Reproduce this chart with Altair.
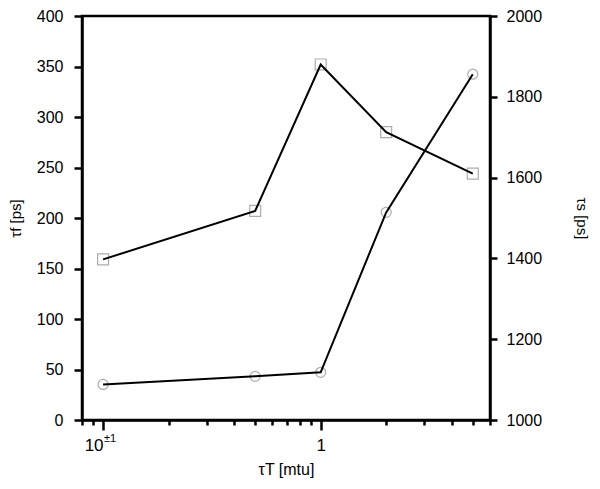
import altair as alt
import pandas as pd

# data
x_vals = [0.1, 0.5, 1, 2, 5]
tau_f = [159, 207, 352, 285, 244]          # squares, left axis
tau_s = [1088, 1108, 1118, 1514, 1856]     # circles, right axis

x_major = [0.1, 1]
x_minor = [0.08, 0.09, 0.2, 0.3, 0.4, 0.5, 0.6, 0.7, 0.8, 0.9, 2, 3, 4, 5, 6]
yl_ticks = [0, 50, 100, 150, 200, 250, 300, 350, 400]
yr_ticks = [1000, 1200, 1400, 1600, 1800, 2000]

df = pd.DataFrame({"x": x_vals, "tf": tau_f, "ts": tau_s})
sup = pd.DataFrame({"x": [0.1], "t": ["±1"]})

W, H = 408, 404
FONT = "Liberation Sans"

xscale = alt.Scale(type="log", domain=[0.08, 6], nice=False)
ylscale = alt.Scale(domain=[0, 400], nice=False)
yrscale = alt.Scale(domain=[1000, 2000], nice=False)

major_axis = alt.Axis(
    orient="bottom",
    values=x_major,
    labelExpr="datum.value < 0.5 ? '10' : '1'",
    labelAlign=alt.ConditionalAxisLabelAlign(
        condition={"test": "datum.value < 0.5", "value": "right"}, value="center"
    ),
    tickSize=10, tickWidth=2.5, tickColor="black",
    domainColor="black", domainWidth=2.5,
    labelFontSize=17, labelFont=FONT, labelColor="black", labelPadding=7,
    title="τT [mtu]", titleFontSize=16, titleFont=FONT, titleFontWeight="normal",
    titleColor="black", titlePadding=8, grid=False,
)
minor_axis = alt.Axis(
    orient="bottom",
    values=x_minor, labels=False, tickSize=5, tickWidth=2.5, tickColor="black",
    domain=False, grid=False, title=None,
)
left_axis = alt.Axis(
    values=yl_ticks, tickSize=8, tickWidth=2.5, tickColor="black",
    domainColor="black", domainWidth=2.5,
    labelFontSize=16, labelFont=FONT, labelColor="black", labelPadding=11,
    title="τf [ps]", titleFontSize=15, titleFont=FONT, titleFontWeight="normal",
    titleColor="black", titlePadding=13, grid=False,
)
right_axis = alt.Axis(
    orient="right", values=yr_ticks, format="d", tickSize=7, tickWidth=2.5,
    tickColor="black", domainColor="black", domainWidth=2.5,
    labelFontSize=16, labelFont=FONT, labelColor="black", labelPadding=9,
    title="τs [ps]", titleFontSize=15, titleFont=FONT, titleFontWeight="normal",
    titleColor="black", titlePadding=32, grid=False,
)

base = alt.Chart(df)

sq_pts = base.mark_point(shape="square", size=120, filled=False, color="#8a8a8a",
                         strokeWidth=1.2).encode(
    x=alt.X("x:Q", scale=xscale, axis=major_axis),
    y=alt.Y("tf:Q", scale=ylscale, axis=left_axis),
)
sq_line = base.mark_line(color="black", strokeWidth=2).encode(
    x=alt.X("x:Q", scale=xscale),
    y=alt.Y("tf:Q", scale=ylscale),
)
sup_text = alt.Chart(sup).mark_text(align="left", baseline="middle", fontSize=11,
                                    font=FONT, color="black", dx=1).encode(
    x=alt.X("x:Q", scale=xscale),
    y=alt.value(H + 19),
    text="t:N",
)
left = alt.layer(sq_pts, sq_line, sup_text)

ci_pts = base.mark_point(shape="circle", size=100, filled=False, color="#8a8a8a",
                         strokeWidth=1.2).encode(
    x=alt.X("x:Q", scale=xscale, axis=minor_axis),
    y=alt.Y("ts:Q", scale=yrscale, axis=right_axis),
)
ci_line = base.mark_line(color="black", strokeWidth=2).encode(
    x=alt.X("x:Q", scale=xscale),
    y=alt.Y("ts:Q", scale=yrscale),
)
right = alt.layer(ci_pts, ci_line)

chart = alt.layer(left, right).resolve_scale(y="independent").resolve_axis(
    x="independent", y="independent"
).properties(
    width=W, height=H,
    autosize=alt.AutoSizeParams(type="none"),
    padding={"left": 74, "top": 8, "right": 100, "bottom": 61},
    background="white",
).configure_view(stroke="black", strokeWidth=2.5)

chart.save("out.html", embed_options={"renderer": "svg", "actions": False})
